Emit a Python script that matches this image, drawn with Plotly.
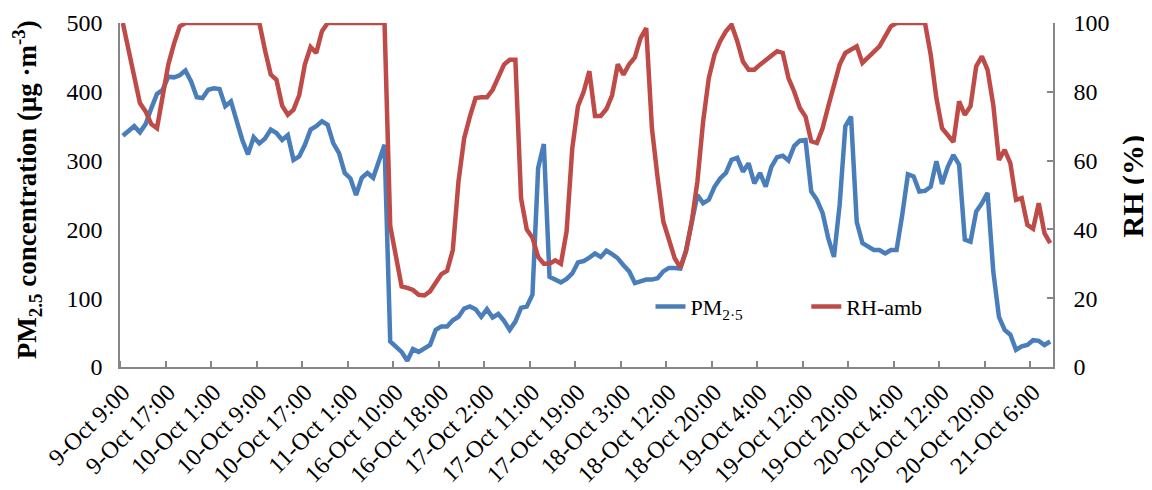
import plotly.graph_objects as go

tick_labels = ["9-Oct 9:00", "9-Oct 17:00", "10-Oct 1:00", "10-Oct 9:00", "10-Oct 17:00",
               "11-Oct 1:00", "16-Oct 10:00", "16-Oct 18:00", "17-Oct 2:00", "17-Oct 11:00",
               "17-Oct 19:00", "18-Oct 3:00", "18-Oct 12:00", "18-Oct 20:00", "19-Oct 4:00",
               "19-Oct 12:00", "19-Oct 20:00", "20-Oct 4:00", "20-Oct 12:00", "20-Oct 20:00",
               "21-Oct 6:00"]
label_step = 8

pm25 = [336, 342, 350, 341, 353, 376, 397, 403, 422, 421,
        424, 431, 415, 392, 391, 403, 405, 404, 379, 386,
        357, 330, 309, 334, 325, 332, 345, 340, 330, 337,
        301, 306, 323, 345, 350, 357, 352, 325, 311, 282,
        274, 250, 275, 282, 275, 299, 323, 37, 30, 22,
        9, 26, 22, 27, 32, 54, 59, 59, 68, 73,
        85, 88, 84, 73, 84, 72, 77, 67, 54, 66,
        86, 88, 105, 289, 324, 131, 127, 123, 128, 136,
        152, 154, 159, 165, 160, 169, 164, 158, 148, 139,
        122, 124, 127, 127, 129, 139, 144, 144, 143, 170,
        207, 250, 238, 243, 262, 274, 282, 301, 304, 284,
        296, 267, 282, 262, 291, 305, 307, 300, 321, 329,
        330, 255, 243, 224, 187, 160, 236, 350, 364, 211,
        180, 175, 170, 170, 165, 170, 170, 221, 280, 277,
        255, 256, 262, 299, 266, 291, 308, 294, 185, 182,
        226, 238, 253, 139, 73, 54, 47, 25, 30, 32,
        39, 38, 32, 37]

rh_amb = [100, 92, 85, 76.7, 74.3, 70.6, 69.4, 79, 88, 94,
          99, 100, 100, 100, 100, 100, 100, 100, 100, 100,
          100, 100, 100, 100, 100, 92, 85, 83.5, 76, 73.3,
          74.8, 79, 88, 93, 91.3, 97.6, 100, 100, 100, 100,
          100, 100, 100, 100, 100, 100, 100, 41, 31.6, 23.4,
          23, 22.4, 21, 20.8, 22, 24.3, 27, 28, 34, 54,
          66.5, 72.8, 78.2, 78.4, 78.4, 80.6, 84, 87.9, 89.3, 89.3,
          49, 40, 37.6, 32, 30, 30, 31, 30, 39.4, 63.6,
          75.8, 80, 86, 73, 73, 75, 79, 88, 85, 88,
          90, 95.6, 98.5, 69.4, 55, 42.3, 37, 31.6, 28.9, 33.6,
          42.3, 54, 71.4, 84, 90.8, 94.7, 97.6, 99.5, 94.7, 88.8,
          86.4, 86.4, 87.9, 89.3, 90.6, 91.8, 91.3, 84, 80.1, 75.3,
          72.8, 65.6, 65.1, 69.4, 75.8, 82, 87.9, 91.3, 92.2, 93.2,
          88.4, 90, 91.8, 93.2, 96.1, 99, 100, 100, 100, 100,
          100, 100, 90.8, 78.2, 69.4, 67.5, 65.4, 77.2, 73.3, 75.8,
          87.4, 90.3, 86.4, 76.2, 60.2, 63.1, 59.3, 48.6, 49.1, 41.3,
          40.2, 47.6, 38.9, 36]

n = max(len(pm25), len(rh_amb))
x_pm = list(range(len(pm25)))
x_rh = list(range(len(rh_amb)))
tickvals = [i * label_step for i in range(len(tick_labels))]
minor_vals = [i * label_step - 0.5 for i in range(len(tick_labels))]

FONT = "Liberation Serif, Times New Roman, serif"
AXC = "#868686"

fig = go.Figure()
fig.add_trace(go.Scatter(x=x_pm, y=pm25, mode="lines", name="PM<sub>2·5</sub>", showlegend=True,
                         line=dict(color="#4A7EBB", width=4.5), legend="legend"))
fig.add_trace(go.Scatter(x=x_rh, y=rh_amb, mode="lines", name="RH-amb", yaxis="y2", showlegend=True,
                         line=dict(color="#BE4B48", width=4.5), legend="legend2"))

fig.update_layout(
    width=1144, height=482,
    margin=dict(l=112, r=99, t=15, b=123, autoexpand=False),
    paper_bgcolor="white", plot_bgcolor="white",
    showlegend=True,
    font=dict(family=FONT, size=22, color="black"),
    xaxis=dict(range=[-0.5, n - 0.5], tickmode="array", tickvals=tickvals, ticktext=tick_labels,
               tickangle=-45, ticks="", showgrid=False, zeroline=False, automargin=False,
               showline=True, linecolor=AXC, linewidth=1.5,
               tickfont=dict(family=FONT, size=24),
               minor=dict(tickmode="array", tickvals=minor_vals, ticks="inside", ticklen=6,
                          tickcolor=AXC, tickwidth=1.5, showgrid=False)),
    # labels of the left axis (ticks transparent, used only to space the labels)
    yaxis=dict(range=[0, 500], dtick=100, ticks="outside", ticklen=11,
               tickcolor="rgba(0,0,0,0)", tickwidth=1,
               showline=True, linecolor=AXC, linewidth=1.5, showgrid=False, zeroline=False,
               automargin=False, tickfont=dict(family=FONT, size=24)),
    # visible inside tick marks of the left axis
    yaxis3=dict(range=[0, 500], dtick=100, overlaying="y", side="left", anchor="x",
                ticks="inside", ticklen=6, tickcolor=AXC, tickwidth=1.5,
                showticklabels=False, showline=False, showgrid=False, zeroline=False,
                automargin=False),
    yaxis2=dict(range=[0, 100], dtick=20, overlaying="y", side="right", ticks="inside", ticklen=6,
                tickcolor=AXC, tickwidth=1.5, showline=True, linecolor=AXC, linewidth=1.5,
                showgrid=False, zeroline=False, tickfont=dict(family=FONT, size=24),
                automargin=False, ticklabelstandoff=14),
    legend=dict(x=0.5686, y=0.175, xanchor="left", yanchor="middle", bgcolor="rgba(0,0,0,0)",
                font=dict(family=FONT, size=22)),
    legend2=dict(x=0.7356, y=0.175, xanchor="left", yanchor="middle", bgcolor="rgba(0,0,0,0)",
                 font=dict(family=FONT, size=22)),
    annotations=[
        dict(text="<b>PM<sub>2.5</sub> concentration (μg ·m<sup>-3</sup>)</b>", textangle=-90,
             xref="paper", yref="paper", x=0, y=0.514, xshift=-93, xanchor="center",
             yanchor="middle", showarrow=False, font=dict(family=FONT, size=27)),
        dict(text="<b>RH (%)</b>", textangle=-90,
             xref="paper", yref="paper", x=1, y=0.525, xshift=80, xanchor="center",
             yanchor="middle", showarrow=False, font=dict(family=FONT, size=30)),
    ],
)

fig.write_html("out.html")
